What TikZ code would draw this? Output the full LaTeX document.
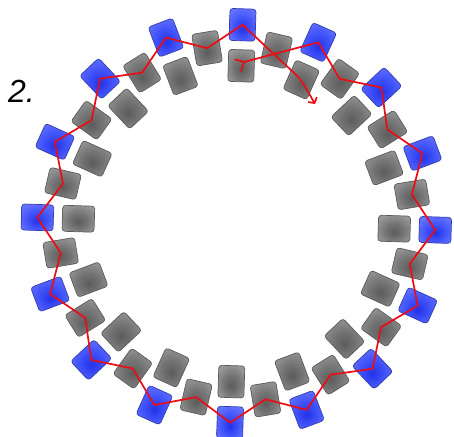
\documentclass[tikz,border=0pt]{standalone}
\usepackage{fontspec}
\setmainfont{Liberation Sans}
\usetikzlibrary{arrows.meta,calc}
\definecolor{blueIn}{RGB}{35,50,230}
\definecolor{blueMid}{RGB}{62,80,248}
\definecolor{blueOut}{RGB}{100,115,255}
\definecolor{blueEdge}{RGB}{50,60,175}
\definecolor{grayIn}{RGB}{92,92,92}
\definecolor{grayMid}{RGB}{116,116,116}
\definecolor{grayOut}{RGB}{152,152,152}
\definecolor{grayEdge}{RGB}{90,90,90}
\definecolor{pathred}{RGB}{235,12,20}
\pgfdeclareradialshading{tileblue}{\pgfpoint{0bp}{-6bp}}{color(0bp)=(blueIn); color(14bp)=(blueMid); color(30bp)=(blueOut); color(50bp)=(blueOut)}
\pgfdeclareradialshading{tilegray}{\pgfpoint{0bp}{-6bp}}{color(0bp)=(grayIn); color(14bp)=(grayMid); color(30bp)=(grayOut); color(50bp)=(grayOut)}
\tikzset{
 tile/.style={rectangle, rounded corners=3pt, minimum width=26pt, minimum height=32pt, inner sep=0pt, line width=0.7pt},
 bluetile/.style={tile, draw=blueEdge, shading=tileblue},
 graytile/.style={tile, draw=grayEdge, shading=tilegray},
 redline/.style={draw=pathred, line width=1.7pt, line join=round, line cap=round},
}
\begin{document}
\begin{tikzpicture}[x=1pt,y=-1pt]
\fill[white] (0,0) rectangle (454,436);
\useasboundingbox (0,0) rectangle (454,436);
\foreach \k in {0,...,15}{
 \pgfmathsetmacro\a{88.2-22.5*\k}
 \pgfmathsetmacro\m{\a-11.25}
 \node[graytile, rotate=\a-90] (g\k) at ({236.3+158*cos(\a)},{223.7-158*sin(\a)}) {};
 \node[graytile, rotate=\m-90] (m\k) at ({236.3+178*cos(\m)},{223.7-178*sin(\m)}) {};
 \node[bluetile, rotate=\a-90] (b\k) at ({236.3+199*cos(\a)},{223.7-199*sin(\a)}) {};
}
\coordinate (s) at (244,62);
\coordinate (s1) at (235,59.5);
\coordinate (s2) at (241,71);
\coordinate (e) at (315,104);
\coordinate (p) at ($(b0.center)!0.82!(g1.center)$);
\draw[redline] (s1) -- (s) -- (s2);
\draw[redline, -{Straight Barb[length=4pt,width=10pt]}] (s) -- (b1.center)
  \foreach \k [evaluate=\k as \n using int(\k+1)] in {1,...,14}{ -- (m\k.center) -- (b\n.center)}
  -- (m15.center) -- (b0.center) -- (p) .. controls (g1.center) .. (e);
\node[font=\fontsize{32}{36}\selectfont\itshape, inner sep=0pt, anchor=base west] (lbl) at (8,102) {2.};
\end{tikzpicture}
\end{document}
